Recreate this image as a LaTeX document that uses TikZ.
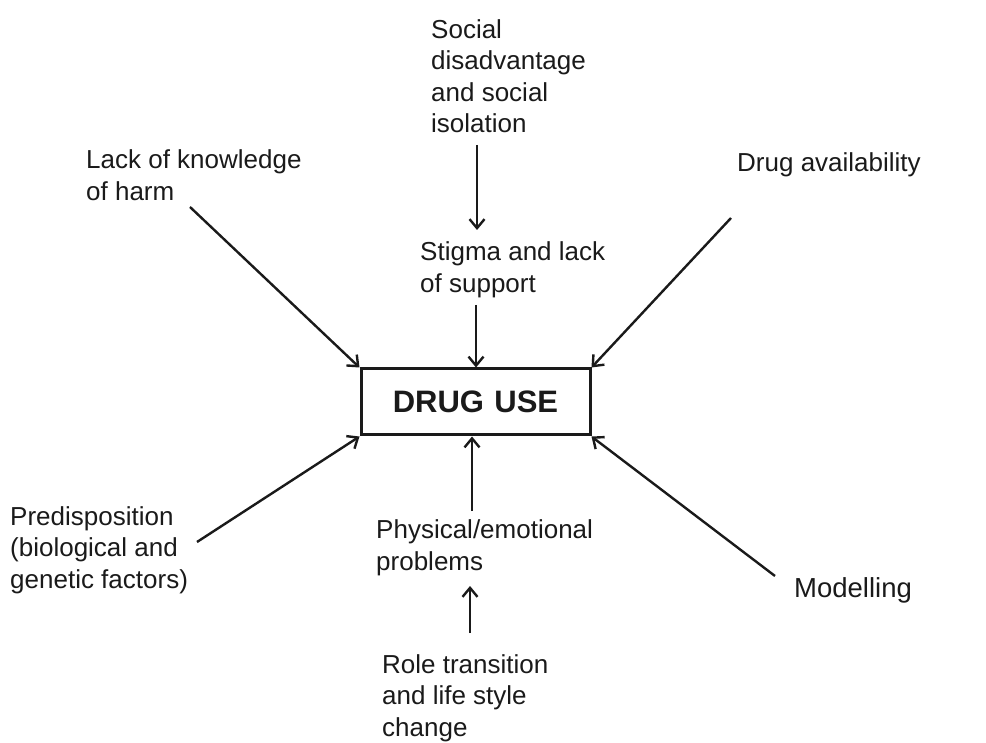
\documentclass[tikz,border=0pt]{standalone}
\usepackage{fontspec}
\setmainfont{Liberation Sans}
\usetikzlibrary{arrows.meta}
\usetikzlibrary{positioning}
\definecolor{ink}{HTML}{1A1A1A}
\tikzstyle{factor} = [anchor=west, align=left, inner sep=0pt, text=ink, font=\fontsize{26}{31.5}\selectfont]
\tikzstyle{target} = [draw=ink, line width=3pt, minimum width=229pt, minimum height=66pt, inner sep=0pt, text=ink, font=\fontsize{31}{31}\selectfont\bfseries]
\tikzstyle{link} = [draw=ink, line width=2.4pt, -{Straight Barb[length=9pt,width=15pt]}]
\tikzstyle{tail} = [coordinate]

\begin{document}
\begin{tikzpicture}[x=1pt, y=-1pt]
    \useasboundingbox (0,0) rectangle (986,743);

    % central box
    \node [target, name=drug] at (475.5,402) {DRUG\,\,USE};

    % factors around it
    \node [factor, name=social] at (431,76) {Social\\disadvantage\\and social\\isolation};
    \node [factor, name=stigma] at (420,270) {Stigma and lack\\of support};
    \node [factor, name=lack] at (86,175) {Lack of knowledge\\of harm};
    \node [factor, name=avail] at (737,165) {Drug availability};
    \node [factor, name=predis] at (10,550) {Predisposition\\(biological and\\genetic factors)};
    \node [factor, name=physical] at (376,548) {Physical/emotional\\problems};
    \node [factor, name=role] at (382,698) {Role transition\\and life style\\change};
    \node [factor, name=model, font=\fontsize{27.5}{33}\selectfont] at (794,590) {Modelling};

    % loose ends of the connectors
    \node [tail, name=social-out] at (477,145) {};
    \node [tail, name=stigma-in] at (477,230) {};
    \node [tail, name=stigma-out] at (476,305) {};
    \node [tail, name=lack-out] at (190,207) {};
    \node [tail, name=avail-out] at (731,218) {};
    \node [tail, name=predis-out] at (197,542) {};
    \node [tail, name=model-out] at (775,576) {};
    \node [tail, name=physical-out] at (472,511) {};
    \node [tail, name=role-out] at (470,633) {};
    \node [tail, name=physical-in] at (470,586) {};

    \draw [link] (social-out) -- (stigma-in);
    \draw [link] (stigma-out) -- (drug.north -| stigma-out);
    \draw [link] (lack-out) -- (drug.north west);
    \draw [link] (avail-out) -- (drug.north east);
    \draw [link] (predis-out) -- (drug.south west);
    \draw [link] (model-out) -- (drug.south east);
    \draw [link] (physical-out) -- (drug.south -| physical-out);
    \draw [link] (role-out) -- (physical-in);
\end{tikzpicture}
\end{document}
